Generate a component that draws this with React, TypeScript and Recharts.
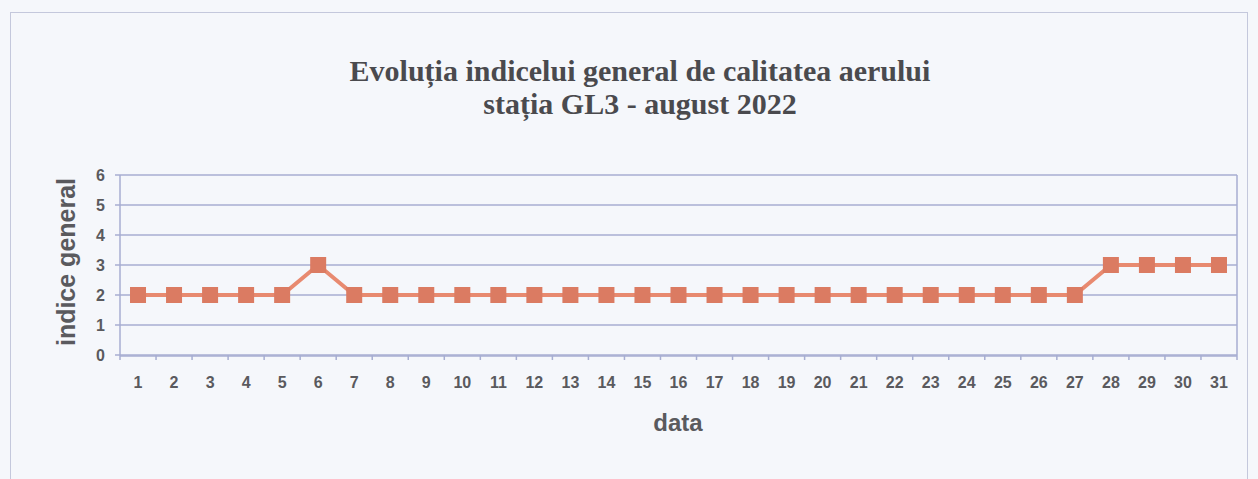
import { LineChart, Line, XAxis, YAxis, CartesianGrid, ReferenceLine } from 'recharts';

const days = Array.from({ length: 31 }, (_, i) => i + 1);
const indexValues = [2, 2, 2, 2, 2, 3, 2, 2, 2, 2, 2, 2, 2, 2, 2, 2, 2, 2, 2, 2, 2, 2, 2, 2, 2, 2, 2, 3, 3, 3, 3];
const yTicks = [0, 1, 2, 3, 4, 5, 6];

const titleLines = ['Evoluția indicelui general de calitatea aerului', 'stația GL3 - august 2022'];

const chartData = days.map((d, i) => ({ day: d, value: indexValues[i] }));
const boundaryTicks = [...days.map(d => d - 0.5), days[days.length - 1] + 0.5];

const axisColor = '#a7aed2';
const textColor = '#5a5a5e';
const lineColor = '#e88a70';
const markerColor = '#db7b62';
const sans = '"Liberation Sans", Arial, sans-serif';

function SquareDot(props: any) {
  const { cx, cy } = props;
  if (cx == null || cy == null) return null;
  return <rect x={cx - 8} y={cy - 8} width={16} height={16} fill={markerColor} />;
}

export default function App() {
  return (
    <div style={{ position: 'absolute', left: 0, top: 0, width: 1258, height: 479, background: '#f5f7fb', overflow: 'hidden' }}>
      <div style={{ position: 'absolute', left: 10, top: 12, width: 1238, height: 480, border: '1.5px solid #c4c8dc', boxSizing: 'border-box' }} />
      <div style={{ position: 'absolute', left: 0, top: 54, width: 1280, textAlign: 'center', fontFamily: '"Liberation Serif", "DejaVu Serif", serif', fontWeight: 'bold', fontSize: 30, lineHeight: '33px', color: '#4a4a4e' }}>
        {titleLines.map(t => <div key={t}>{t}</div>)}
      </div>
      <div style={{ position: 'absolute', left: 0, top: 409, width: 1356, textAlign: 'center', fontFamily: sans, fontWeight: 'bold', fontSize: 24, color: textColor }}>
        data
      </div>
      <div style={{ position: 'absolute', left: 66, top: 262, transform: 'translate(-50%, -50%) rotate(-90deg)', whiteSpace: 'nowrap', fontFamily: sans, fontWeight: 'bold', fontSize: 25, color: textColor }}>
        indice general
      </div>
      <div style={{ position: 'absolute', left: 0, top: 0 }}>
        <LineChart width={1258} height={479} data={chartData} margin={{ top: 175, right: 21, bottom: 93, left: 80 }}>
          <CartesianGrid vertical={false} stroke={axisColor} strokeWidth={1.5} />
          <XAxis
            xAxisId="data"
            dataKey="day"
            type="number"
            domain={[0.5, 31.5]}
            ticks={days}
            interval={0}
            tickLine={false}
            axisLine={{ stroke: axisColor, strokeWidth: 1.5 }}
            tick={{ fill: textColor, fontSize: 16, fontWeight: 'bold', fontFamily: sans }}
            tickMargin={15}
          />
          <XAxis
            xAxisId="bounds"
            dataKey="day"
            type="number"
            domain={[0.5, 31.5]}
            ticks={boundaryTicks}
            interval={0}
            axisLine={false}
            tickLine={{ stroke: axisColor, strokeWidth: 1.5 }}
            tickSize={5}
            tickFormatter={() => ''}
            height={1}
          />
          <YAxis
            domain={[0, 6]}
            ticks={yTicks}
            interval={0}
            width={40}
            tickSize={5}
            tickMargin={10}
            axisLine={{ stroke: axisColor, strokeWidth: 1.5 }}
            tickLine={{ stroke: axisColor, strokeWidth: 1.5 }}
            tick={{ fill: textColor, fontSize: 16, fontWeight: 'bold', fontFamily: sans }}
          />
          <ReferenceLine xAxisId="data" x={31.5} stroke={axisColor} strokeWidth={1.5} />
          <Line
            xAxisId="data"
            type="linear"
            dataKey="value"
            stroke={lineColor}
            strokeWidth={4}
            dot={<SquareDot />}
            activeDot={false}
            isAnimationActive={false}
          />
        </LineChart>
      </div>
    </div>
  );
}
